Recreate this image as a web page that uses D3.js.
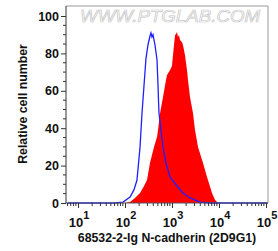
<!DOCTYPE html>
<html><head><meta charset="utf-8">
<script src="https://cdn.jsdelivr.net/npm/d3@7"></script>
<style>body{margin:0;background:#fff}svg{display:block}</style>
</head><body>
<script>
// Data (fluorescence intensity, % relative cell number)
const blueX = [6,61,91,128,155,180,209,230,254,280,308,340,357,375,394,435,480,504,516,529,583,644,745,906,1050,1277,1713,2415,3945,6440,110000];
const blueY = [0,0,0.5,3.2,7,12.3,30,48,63,77.5,84.5,89.3,91,88.8,90,84.5,76.5,63,55,48,39,30,21.4,13.9,11.8,9.1,5.3,2.7,0.5,0,0];
const redX = [100,128,163,209,254,294,340,414,480,504,556,644,745,783,906,998,1050,1103,1160,1217,1277,1342,1409,1480,1633,1713,1892,2085,2188,2415,2799,3085,3573,4568,5560,7100,8225,9530];
const redY = [0,0.5,2.7,5.3,9.1,12.3,21.4,30,35.3,39,48,56.7,65.8,68.4,71,73.3,79,84.5,89.8,90.4,91.4,88.8,89.8,87.2,86,84.5,79,71,65.8,56.7,48,39,30,21.4,13.9,5.3,1.6,0];
const yTicks = [0,20,40,60,80,100];
const xTickExp = [1,2,3,4,5];
const xLabel = "68532-2-Ig N-cadherin (2D9G1)";
const yLabel = "Relative cell number";
const watermark = "WWW.PTGLAB.COM";

const W = 278, H = 251;
const L = 66, R = 268, T = 6, B = 203;
const x = d3.scaleLog().domain([Math.pow(10, 1 - 12/47), Math.pow(10, 5 + 2/47)]).range([L, R]);
const y = d3.scaleLinear().domain([0, 100]).range([B, 16]);

const svg = d3.select("body").append("svg").attr("width", W).attr("height", H);
const font = "'Liberation Sans', Arial, sans-serif";

// watermark
svg.append("text").attr("x", 80).attr("y", 22).attr("textLength", 180).attr("lengthAdjust", "spacingAndGlyphs")
  .attr("font-family", font).attr("font-style", "italic").attr("font-size", 17)
  .attr("fill", "#fff").attr("stroke", "#c8c8c8").attr("stroke-width", 0.7).text(watermark);

// red filled histogram
const redData = redX.map((v, i) => [v, redY[i]]);
svg.append("path").datum(redData)
  .attr("d", d3.area().x(d => x(d[0])).y0(y(0)).y1(d => y(d[1])))
  .attr("fill", "#ff0000");

// blue line
const blueData = blueX.map((v, i) => [Math.min(Math.max(v, x.domain()[0]), x.domain()[1]), blueY[i]]);
svg.append("path").datum(blueData)
  .attr("d", d3.line().x(d => x(d[0])).y(d => y(d[1])))
  .attr("fill", "none").attr("stroke", "#1f1fff").attr("stroke-width", 1.3);

// frame
svg.append("path").attr("d", `M${L},${T}H${R}V${B}`).attr("fill", "none").attr("stroke", "#999").attr("stroke-width", 1);

// y axis
const yAx = svg.append("g").attr("transform", `translate(${L},0)`)
  .call(d3.axisLeft(y).tickValues(yTicks).tickSize(5).tickPadding(2));
yAx.select(".domain").attr("d", `M0,${T}V${B}`).attr("stroke", "#333");
yAx.selectAll(".tick line").attr("stroke", "#333");
yAx.selectAll("text").attr("font-family", font).attr("font-weight", "bold").attr("font-size", 12.5).attr("fill", "#111");
const yMinor = d3.range(0, 101, 5).filter(v => v % 20 !== 0);
yAx.selectAll(".minor").data(yMinor).enter().append("line").attr("class", "minor")
  .attr("x1", -3).attr("x2", 0).attr("y1", d => y(d)).attr("y2", d => y(d)).attr("stroke", "#333");

// x axis
const majors = xTickExp.map(e => Math.pow(10, e));
const xAx = svg.append("g").attr("transform", `translate(0,${B})`)
  .call(d3.axisBottom(x).tickValues(majors).tickSize(5).tickFormat(""));
xAx.select(".domain").attr("d", `M${L},0H${R}`).attr("stroke", "#555");
xAx.selectAll(".tick line").attr("stroke", "#333");
const minors = [];
for (let e = 0; e < 6; e++) for (let m = 2; m <= 9; m++) { const v = m * Math.pow(10, e); if (v > x.domain()[0] && v < x.domain()[1]) minors.push(v); }
xAx.selectAll(".minor").data(minors).enter().append("line").attr("class", "minor")
  .attr("x1", d => x(d)).attr("x2", d => x(d)).attr("y1", 0).attr("y2", 3).attr("stroke", "#333");
xTickExp.forEach(e => {
  const t = svg.append("text").attr("x", x(Math.pow(10, e)) + 1).attr("y", 227)
    .attr("text-anchor", "middle").attr("font-family", font).attr("font-weight", "bold").attr("font-size", 13).attr("fill", "#111");
  t.append("tspan").text("10");
  t.append("tspan").attr("dy", -8).attr("font-size", 11).text(e);
});

// axis titles
svg.append("text").attr("x", 167).attr("y", 242).attr("text-anchor", "middle")
  .attr("font-family", font).attr("font-weight", "bold").attr("font-size", 12.3).attr("fill", "#111").text(xLabel);
svg.append("text").attr("transform", "translate(26.5,104) rotate(-90)").attr("text-anchor", "middle")
  .attr("font-family", font).attr("font-weight", "bold").attr("font-size", 12.3).attr("fill", "#111").text(yLabel);
</script>
</body></html>
